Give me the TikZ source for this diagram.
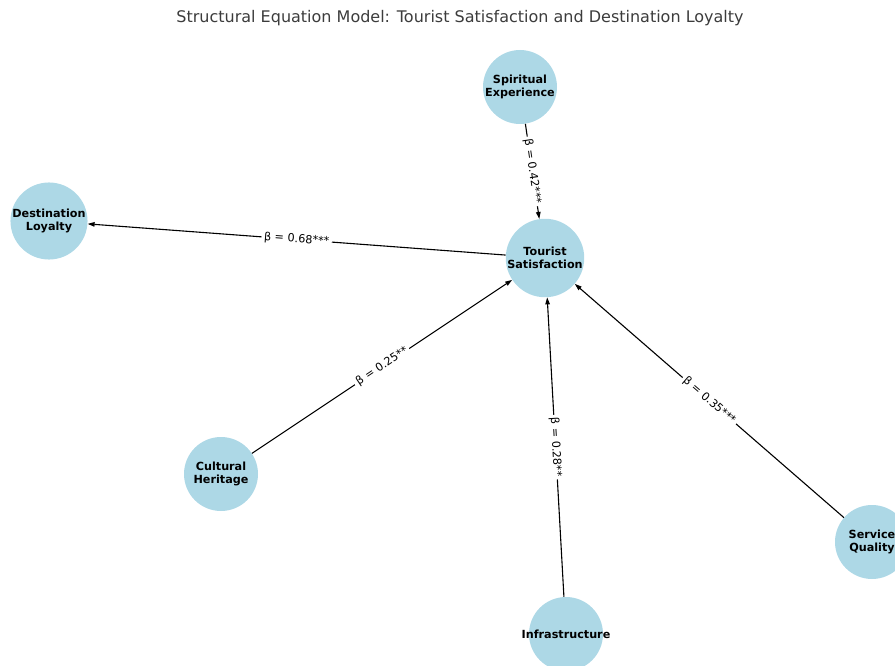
\documentclass[tikz,border=0pt]{standalone}
\usepackage{fontspec}
\setmainfont{DejaVu Sans}
\definecolor{nodeblue}{RGB}{173,216,230}
\definecolor{titlegray}{RGB}{60,60,60}
\usetikzlibrary{arrows.meta}

\begin{document}
\begin{tikzpicture}[
  x=1pt, y=-1pt,
  font=\fontsize{11.2}{13.5}\selectfont,
  arrow/.style={-{Triangle[length=7pt, width=4.5pt]}, line width=1.1pt, black},
  nd/.style={circle, fill=nodeblue, minimum size=74pt, inner sep=0pt,
             align=center, font=\fontsize{11.2}{13.5}\selectfont\bfseries},
  lbl/.style={sloped, fill=white, inner sep=2.5pt, rounded corners=2pt,
              font=\fontsize{11.2}{13}\selectfont},
]

\useasboundingbox (0,0) rectangle (895,666);
\clip (0,0) rectangle (895,666);

% --- Title ---
\node[font=\fontsize{16}{19}\selectfont, text=titlegray] (title) at (460,18)
  {Structural Equation Model: Tourist Satisfaction and Destination Loyalty};

% --- Constructs (pixel positions) ---
\node[nd] (sat)     at (545,258) {Tourist\\Satisfaction};
\node[nd] (spirit)  at (520,87)  {Spiritual\\Experience};
\node[nd] (loyal)   at (49,221)  {Destination\\Loyalty};
\node[nd] (culture) at (221,474) {Cultural\\Heritage};
\node[nd] (infra)   at (566,634) {\makebox[0pt]{Infrastructure}};
\node[nd] (service) at (872,542) {Service\\Quality};

% --- Paths into satisfaction ---
\draw[arrow] (spirit)  -- node[lbl] {β = 0.42***} (sat);
\draw[arrow] (culture) -- node[lbl] {β = 0.25**}  (sat);
\draw[arrow] (infra)   -- node[lbl] {β = 0.28**}  (sat);
\draw[arrow] (service) -- node[lbl] {β = 0.35***} (sat);

% --- Outcome path ---
\draw[arrow] (sat) -- node[lbl] {β = 0.68***} (loyal);

\end{tikzpicture}
\end{document}
